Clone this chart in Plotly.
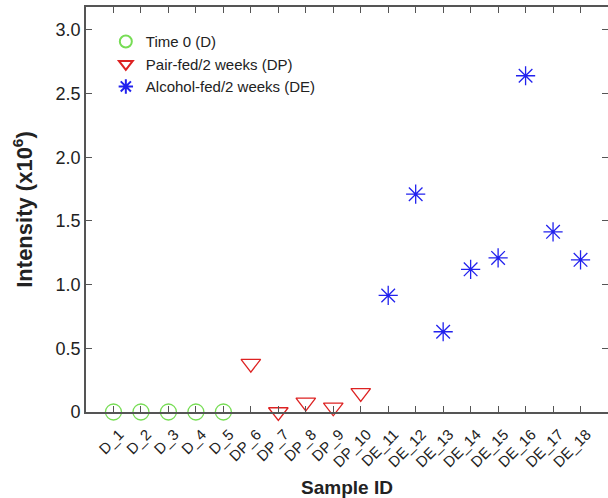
import plotly.graph_objects as go

samples = ["D_1", "D_2", "D_3", "D_4", "D_5",
           "DP_6", "DP_7", "DP_8", "DP_9", "DP_10",
           "DE_11", "DE_12", "DE_13", "DE_14", "DE_15", "DE_16", "DE_17", "DE_18"]

d_pos = [1, 2, 3, 4, 5]
d_vals = [0, 0, 0, 0, 0]

dp_pos = [6, 7, 8, 9, 10]
dp_vals = [0.38, 0.0, 0.075, 0.037, 0.15]

de_pos = [11, 12, 13, 14, 15, 16, 17, 18]
de_vals = [0.915, 1.71, 0.63, 1.12, 1.21, 2.64, 1.415, 1.195]

y_ticks = [0, 0.5, 1.0, 1.5, 2.0, 2.5, 3.0]
y_labels = ["0", "0.5", "1.0", "1.5", "2.0", "2.5", "3.0"]

FONT = "Liberation Sans, Arial, sans-serif"

fig = go.Figure()
fig.add_trace(go.Scatter(
    x=d_pos, y=d_vals, mode="markers", name="Time 0 (D)", cliponaxis=False,
    marker=dict(symbol="circle-open", size=16, color="#77dd55", line=dict(width=1.3))))
fig.add_trace(go.Scatter(
    x=dp_pos, y=dp_vals, mode="markers", name="Pair-fed/2 weeks (DP)", cliponaxis=False,
    marker=dict(symbol="triangle-down-open", size=17, color="#dd2222", line=dict(width=1.3))))
fig.add_trace(go.Scatter(
    x=de_pos, y=de_vals, mode="markers", name="Alcohol-fed/2 weeks (DE)", cliponaxis=False,
    marker=dict(symbol="asterisk-open", size=16, color="#2222ee", line=dict(width=1.3))))

fig.update_layout(
    width=608, height=498,
    margin=dict(l=86, r=0, t=7, b=86),
    plot_bgcolor="white", paper_bgcolor="white",
    font=dict(family=FONT, color="#222222"),
    showlegend=True,
    legend=dict(x=0.038, y=0.955, xanchor="left", yanchor="top",
                bgcolor="rgba(0,0,0,0)", font=dict(size=15, family=FONT),
                itemsizing="constant", tracegroupgap=0),
)

fig.update_xaxes(
    range=[0, 19], tickvals=list(range(1, 19)), ticktext=samples,
    tickangle=-45, tickfont=dict(size=15), ticklabelstandoff=6, ticklabelshift=6,
    ticks="inside", ticklen=6, tickcolor="#555555",
    showline=True, linecolor="#555555", linewidth=1.8, mirror="ticks",
    showgrid=False, zeroline=False, automargin=False,
    title=dict(text="<b>Sample ID</b>", font=dict(size=19), standoff=12),
)
fig.update_yaxes(
    range=[0, 3.18], tickvals=y_ticks, ticktext=y_labels,
    tickfont=dict(size=18),
    ticks="inside", ticklen=6, tickcolor="#555555",
    showline=True, linecolor="#555555", linewidth=1.8, mirror="ticks",
    showgrid=False, zeroline=False, automargin=False,
    title=dict(text="<b>Intensity (x10<sup>6</sup>)</b>", font=dict(size=22), standoff=17),
)

# the page's default body margin would shift the figure by 8px
fig.write_html("out.html", config={"displayModeBar": False},
               post_script="document.body.style.margin='0px';")
